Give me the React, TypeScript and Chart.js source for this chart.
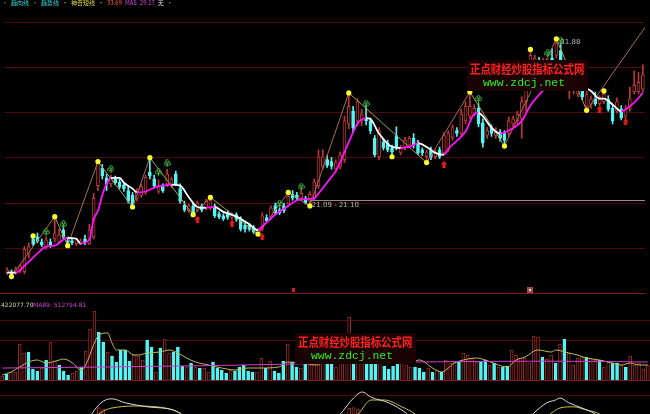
import React, { useEffect, useRef } from 'react';
import { Chart, registerables } from 'chart.js';

Chart.register(...registerables);

// ---------------- data ----------------
const N = 148;

const opens = [
  16.35, 16.41, 16.35, 16.48, 16.41, 17.57, 18.59, 18.72, 18.40, 18.02,
  18.40, 18.59, 18.40, 19.17, 18.47, 18.47, 18.27, 18.27, 18.59, 18.27,
  18.72, 22.13, 23.28, 22.64, 22.25, 22.57, 22.38, 22.19, 21.80, 21.48,
  21.29, 21.48, 21.68, 23.02, 22.57, 21.74, 22.06, 22.25, 22.13, 22.89,
  21.93, 20.84, 20.46, 20.78, 20.52, 20.78, 20.65, 20.65, 20.78, 20.26,
  20.13, 20.33, 20.01, 20.20, 19.88, 19.49, 19.49, 19.37, 18.98, 19.24,
  20.01, 20.01, 20.78, 20.52, 20.78, 20.91, 21.55, 21.48, 21.29, 21.29,
  21.10, 21.29, 22.13, 23.35, 23.86, 23.73, 23.22, 23.41, 23.86, 26.23,
  27.07, 26.43, 26.43, 26.62, 26.43, 25.27, 24.05, 25.01, 24.95, 24.63,
  25.46, 24.31, 24.69, 24.82, 25.27, 24.95, 24.50, 24.05, 24.50, 24.05,
  24.50, 24.31, 24.50, 25.34, 25.78, 25.59, 26.43, 26.75, 26.94, 27.26,
  26.30, 25.46, 25.98, 25.46, 25.66, 25.59, 25.59, 26.23, 26.43, 26.56,
  27.71, 30.28, 30.41, 30.47, 29.70, 29.76, 30.60, 30.79, 31.11, 29.32,
  28.67, 28.48, 28.22, 28.48, 27.39, 27.52, 27.90, 27.58, 27.71, 27.84,
  27.26, 27.07, 27.20, 26.75, 27.26, 28.35, 28.35, 28.54,
];
const highs = [
  16.67, 16.54, 16.73, 16.92, 18.08, 18.34, 18.79, 18.98, 18.59, 18.72,
  18.59, 20.07, 19.24, 19.49, 18.72, 18.59, 18.66, 18.59, 18.85, 19.56,
  21.61, 23.73, 23.54, 22.89, 22.83, 22.77, 22.57, 22.32, 22.06, 21.68,
  21.93, 22.25, 22.83, 23.99, 22.83, 22.51, 22.25, 23.22, 22.70, 23.09,
  22.25, 21.10, 20.91, 20.97, 21.10, 20.91, 21.23, 21.35, 20.91, 20.39,
  20.26, 20.46, 20.33, 20.33, 20.07, 19.62, 19.62, 19.49, 19.30, 20.33,
  20.20, 20.78, 20.97, 20.65, 20.97, 21.68, 21.80, 21.68, 21.87, 21.42,
  21.74, 22.57, 24.50, 24.50, 24.12, 23.99, 23.86, 24.37, 26.75, 28.29,
  27.39, 27.90, 27.20, 27.45, 26.62, 25.46, 25.98, 25.27, 25.14, 24.82,
  26.04, 24.82, 25.34, 25.40, 25.59, 25.14, 24.63, 24.50, 24.69, 24.50,
  24.69, 25.66, 25.78, 26.17, 25.98, 27.20, 27.71, 28.35, 27.52, 27.58,
  26.56, 25.98, 26.17, 25.98, 25.85, 25.78, 26.68, 26.75, 27.07, 28.03,
  30.02, 31.18, 30.79, 30.66, 30.60, 30.54, 31.24, 31.88, 31.56, 30.47,
  29.89, 29.51, 29.25, 28.87, 28.48, 28.10, 28.35, 28.10, 28.42, 28.10,
  27.45, 27.97, 27.45, 27.45, 28.67, 29.76, 29.64, 30.15,
];
const lows = [
  16.22, 16.09, 16.22, 16.35, 16.28, 17.31, 18.14, 18.34, 18.08, 17.89,
  18.02, 18.40, 18.27, 18.59, 18.14, 18.21, 18.14, 18.21, 18.21, 18.21,
  18.59, 21.80, 22.57, 21.80, 22.06, 22.19, 21.93, 21.74, 20.97, 20.71,
  21.10, 21.35, 21.55, 22.57, 22.00, 21.61, 21.68, 22.06, 22.00, 22.13,
  20.97, 20.39, 20.33, 20.20, 20.39, 20.39, 20.52, 20.52, 20.01, 19.94,
  19.81, 19.88, 19.88, 19.75, 19.11, 19.04, 19.11, 18.95, 18.91, 19.11,
  19.69, 19.88, 20.20, 20.20, 20.33, 20.78, 21.16, 21.16, 21.16, 20.91,
  20.78, 21.16, 21.93, 23.22, 23.34, 23.22, 23.09, 23.22, 23.66, 25.91,
  25.66, 26.11, 26.11, 26.17, 25.59, 24.05, 23.86, 24.50, 24.37, 24.05,
  24.50, 24.18, 24.50, 24.63, 24.63, 24.18, 24.12, 23.66, 23.86, 23.92,
  23.92, 24.18, 24.37, 25.14, 25.40, 25.40, 26.23, 26.56, 26.75, 26.04,
  24.69, 25.27, 25.40, 25.27, 25.08, 24.76, 25.40, 26.04, 26.23, 25.27,
  27.07, 29.89, 30.02, 29.89, 29.38, 29.51, 29.89, 30.60, 29.96, 29.13,
  27.90, 28.22, 28.03, 27.84, 27.13, 27.26, 27.45, 27.45, 27.58, 27.07,
  26.23, 26.94, 26.49, 26.56, 27.07, 28.22, 28.22, 28.35,
];
const closes = [
  16.54, 16.22, 16.60, 16.80, 17.89, 18.08, 18.27, 18.47, 18.21, 18.53,
  18.14, 18.98, 18.85, 18.72, 18.27, 18.34, 18.53, 18.47, 18.34, 19.17,
  21.29, 23.66, 22.77, 22.25, 22.70, 22.32, 22.06, 21.93, 21.10, 20.84,
  21.74, 22.06, 22.70, 22.77, 22.13, 22.13, 21.80, 22.90, 22.57, 22.25,
  21.10, 20.52, 20.78, 20.33, 20.97, 20.52, 21.10, 21.16, 20.13, 20.07,
  19.94, 20.01, 20.20, 19.88, 19.24, 19.24, 19.24, 19.04, 19.17, 20.13,
  19.81, 20.65, 20.33, 20.33, 20.46, 21.42, 21.29, 21.29, 21.61, 20.97,
  21.55, 22.38, 24.05, 24.05, 23.47, 23.41, 23.66, 24.18, 26.43, 27.39,
  25.98, 27.71, 26.88, 26.43, 25.78, 24.18, 25.78, 24.63, 24.50, 24.37,
  24.69, 24.63, 25.14, 25.27, 24.82, 24.31, 24.31, 24.37, 24.05, 24.37,
  24.05, 25.46, 25.59, 25.98, 25.59, 26.88, 27.39, 27.39, 27.26, 26.23,
  24.95, 25.78, 25.59, 25.78, 25.27, 25.14, 26.43, 26.56, 26.88, 27.71,
  29.76, 30.79, 30.60, 30.15, 30.35, 30.28, 30.15, 31.56, 30.15, 30.28,
  29.64, 29.32, 28.99, 28.03, 28.22, 27.90, 27.58, 27.90, 28.22, 27.20,
  26.43, 27.71, 26.62, 27.20, 27.90, 28.80, 28.99, 29.51,
];
// volume, thousand shares
const volumes = [
  135, 189, 243, 243, 999, 756, 783, 324, 270, 351,
  567, 1053, 540, 432, 270, 162, 216, 270, 378, 810,
  1404, 1890, 1323, 1053, 783, 675, 513, 837, 837, 540,
  702, 675, 567, 1107, 918, 243, 891, 1134, 756, 783,
  918, 405, 378, 486, 378, 351, 351, 243, 513, 351,
  297, 216, 297, 270, 378, 432, 270, 243, 243, 621,
  351, 540, 270, 216, 540, 999, 513, 378, 351, 486,
  432, 432, 486, 513, 486, 486, 378, 567, 972, 1728,
  513, 837, 783, 486, 486, 513, 486, 405, 324, 405,
  513, 486, 432, 378, 378, 351, 243, 351, 243, 297,
  243, 567, 486, 513, 513, 756, 702, 621, 513, 513,
  567, 432, 486, 378, 378, 405, 837, 702, 621, 621,
  486, 1215, 1188, 648, 594, 702, 486, 999, 1134, 756,
  432, 621, 648, 648, 621, 567, 567, 378, 513, 486,
  486, 432, 378, 675, 432, 486, 324, 422.0777,
];

// price moving average
const maIdx = [0, 2, 4, 7, 9, 11, 14, 16, 17, 19, 20, 21, 22, 23, 24, 26, 27, 29, 30, 32, 34, 36, 38, 40, 42, 44, 46, 48, 50, 53, 56, 58, 59, 62, 65, 67, 69, 71, 72, 75, 76, 79, 81, 83, 84, 86, 89, 91, 93, 95, 97, 99, 101, 102, 106, 108, 109, 110, 112, 114, 116, 119, 121, 124, 126, 128, 130, 132, 133, 135, 137, 138, 140, 142, 143, 145, 147];
const maVal = [16.35, 16.35, 16.80, 17.63, 18.08, 18.15, 18.66, 18.60, 18.28, 18.53, 19.88, 20.46, 21.49, 22.26, 22.64, 22.64, 22.32, 21.93, 21.68, 21.74, 22.00, 22.13, 22.19, 22.13, 21.36, 20.71, 20.65, 20.71, 20.39, 20.07, 19.56, 19.17, 19.43, 20.20, 20.78, 21.16, 21.23, 21.29, 21.61, 22.71, 23.09, 25.02, 26.24, 26.62, 26.56, 25.59, 24.70, 24.63, 24.70, 24.95, 24.70, 24.31, 24.18, 24.57, 25.72, 26.88, 26.94, 26.75, 25.98, 25.59, 25.79, 26.43, 27.46, 28.48, 29.13, 29.45, 29.38, 28.99, 28.74, 28.42, 27.91, 27.91, 27.52, 27.07, 27.20, 27.65, 28.29];

// zigzag turning points
const zzIdx = [1, 11, 14, 21, 29, 33, 43, 47, 58, 65, 70, 79, 97, 107, 115, 127, 134, 155];
const zzVal = [16.09, 20.07, 18.14, 23.73, 20.71, 23.99, 20.20, 21.35, 18.91, 21.68, 20.78, 28.29, 23.66, 28.35, 24.76, 31.88, 27.13, 35.70];

// yellow swing dots (H = at high, L = at low)
const dotIdx = [1, 6, 11, 14, 21, 29, 33, 43, 47, 58, 65, 70, 79, 89, 97, 107, 115, 121, 127, 134, 138];
const dotSide = 'LHHLHLHLHLHLHLLHLHHLH';

// green club signals and red arrow signals
const clubIdx = [9, 13, 24, 35, 37, 63, 68, 83, 109, 125, 128];
const clubVal = [19.04, 19.56, 23.22, 23.02, 23.60, 20.91, 22.06, 27.58, 27.90, 30.92, 31.75];
const arrowIdx = [44, 52, 59, 101, 137, 143];
const arrowVal = [19.88, 19.62, 18.72, 23.54, 27.20, 26.36];

// volume averages
const vma5Idx = [0, 2, 4, 6, 8, 10, 13, 14, 16, 18, 19, 21, 22, 24, 25, 26, 28, 30, 31, 33, 36, 38, 40, 42, 44, 47, 50, 53, 56, 59, 63, 65, 68, 72, 73, 77, 80, 83, 86, 89, 93, 95, 98, 100, 103, 105, 108, 110, 113, 115, 117, 119, 122, 125, 126, 129, 131, 133, 136, 138, 141, 143, 145, 147];
const vma5Val = [162, 243, 378, 513, 567, 486, 567, 594, 486, 297, 432, 1026, 1242, 1296, 1026, 837, 837, 702, 702, 756, 783, 837, 756, 621, 513, 432, 351, 297, 351, 351, 378, 513, 486, 432, 513, 513, 756, 837, 648, 540, 513, 567, 351, 243, 486, 567, 621, 567, 432, 378, 567, 648, 837, 783, 837, 756, 702, 621, 567, 513, 432, 486, 432, 432];
const vma89Idx = [0, 25, 50, 75, 100, 125, 147];
const vma89Val = [350, 380, 420, 480, 520, 535, 512.8];

// lower indicator (partly visible)
const kIdx = [0, 16, 20, 21, 23, 25, 28, 33, 39, 41, 45, 72, 77, 80, 82, 84, 88, 92, 95, 117, 121, 124, 126, 127, 129, 132, 135, 138, 147];
const kVal = [40, 40, 57, 65, 76, 79, 74, 69, 65, 59, 40, 40, 60, 80, 87.5, 81, 74, 61, 45, 40, 61, 74, 77.5, 80, 74, 67.5, 60, 45, 35];
const dIdx = [0, 18, 22, 24, 25, 30, 35, 40, 43, 75, 81, 84, 87, 91, 94, 97, 120, 125, 127, 130, 133, 136, 139, 147];
const dVal = [40, 40, 60, 66, 67.5, 70, 69, 62.5, 50, 40, 60, 77.5, 77.5, 69, 60, 45, 40, 61, 67.5, 69, 65, 60, 45, 38];
const indBarIdx = [22, 23, 79, 80, 81];
const indBarVal = [68, 66, 67, 68, 66];

// grid levels / labels
const priceGrid = [18, 21, 24, 27, 30, 33];
const volGrid = [1107, 1660];
const indGrid = [84];
const levelIdx = 70;
const levelPrice = 21.10;
const levelLabel = '21.09 - 21.10';
const peakIdx = 127;
const peakLabel = '31.88';
const headerTexts = ['·', '趋向线', '·', '趋势线', '·', '神奇短线', '·', '33.69', 'MA5', '29.17', '无', '·'];
const headerColors = ['#3cc8c8', '#3cd8d8', '#3cc8c8', '#3cd8d8', '#c8c840', '#dcdc40', '#c8c840', '#ff5a5a', '#e040e0', '#e040e0', '#e0e0e0', '#c0c0c0'];
const volLabel = '422077.70';
const volMaLabel = 'MA89: 512794.81';
const markIdx = [66, 121];
const WM_TITLE = '正点财经炒股指标公式网';
const WM_URL = 'www.zdcj.net';

// ---------------- styles ----------------
const RED = '#c23636';
const VRED = '#a02828';
const CYAN = '#56f4f4';
const GRID = '#520909';
const SEP = '#7c1c1c';
const PRICE_MIN = 14.93;
const PRICE_MAX = 34.13;
const VOL_MAX = 2214;
const IND_MIN = 60;
const IND_MAX = 101.25;

const idxs = Array.from({ length: N }, (_, i) => i);
const isUp = (i: number) => closes[i] >= opens[i];
const pts = (xs: number[], ys: number[]) => xs.map((x, k) => ({ x, y: ys[k] }));

function makeClub() {
  const c = document.createElement('canvas');
  c.width = 7;
  c.height = 8;
  const g = c.getContext('2d')!;
  g.strokeStyle = '#44b444';
  g.lineWidth = 1;
  [[3.5, 2], [1.8, 4.3], [5.2, 4.3]].forEach(([x, y]) => {
    g.beginPath();
    g.arc(x, y, 1.5, 0, Math.PI * 2);
    g.stroke();
  });
  g.beginPath();
  g.moveTo(3.5, 4);
  g.lineTo(3.5, 8);
  g.stroke();
  return c;
}

function makeArrow() {
  const c = document.createElement('canvas');
  c.width = 6;
  c.height = 7;
  const g = c.getContext('2d')!;
  g.fillStyle = '#ff1c1c';
  g.beginPath();
  g.moveTo(3, 0);
  g.lineTo(6, 3.5);
  g.lineTo(0, 3.5);
  g.closePath();
  g.fill();
  g.fillRect(1.5, 3.5, 3, 3.5);
  return c;
}

function hline(ctx: CanvasRenderingContext2D, x0: number, x1: number, y: number, color: string) {
  ctx.save();
  ctx.strokeStyle = color;
  ctx.lineWidth = 1;
  ctx.beginPath();
  const yy = Math.round(y) + 0.5;
  ctx.moveTo(x0, yy);
  ctx.lineTo(x1, yy);
  ctx.stroke();
  ctx.restore();
}

function drawWatermark(ctx: CanvasRenderingContext2D, x: number, y: number) {
  ctx.save();
  ctx.fillStyle = '#1c0303';
  ctx.fillRect(x, y, 121, 31);
  ctx.fillStyle = '#ff2020';
  ctx.font = 'bold 10.4px "Noto Sans CJK SC"';
  ctx.textBaseline = 'top';
  ctx.save();
  ctx.translate(x + 3, y + 3);
  ctx.scale(1, 1.2);
  ctx.fillText(WM_TITLE, 0, 0);
  ctx.restore();
  ctx.fillStyle = '#28f028';
  ctx.font = '11.4px "Liberation Mono"';
  ctx.textBaseline = 'alphabetic';
  ctx.fillText(WM_URL, x + 16, y + 26);
  ctx.restore();
}

const baseOptions = (yMin: number, yMax: number) => ({
  animation: false as const,
  responsive: false,
  events: [] as any[],
  layout: { padding: 0 },
  plugins: { legend: { display: false }, tooltip: { enabled: false } },
  scales: {
    x: { type: 'linear' as const, min: -0.5, max: N - 0.5, offset: false, display: false },
    y: { type: 'linear' as const, min: yMin, max: yMax, display: false },
  },
});

export default function App() {
  const pRef = useRef<HTMLCanvasElement>(null);
  const vRef = useRef<HTMLCanvasElement>(null);
  const iRef = useRef<HTMLCanvasElement>(null);

  useEffect(() => {
    document.body.style.margin = '0';
    document.body.style.background = '#000';
    const club = makeClub();
    const arrow = makeArrow();
    const charts: Chart[] = [];

    const pricePlugin = {
      id: 'pricePlugin',
      beforeDatasetsDraw(chart: any) {
        const { ctx, chartArea, scales } = chart;
        priceGrid.forEach((v) => hline(ctx, chartArea.left, chartArea.right, scales.y.getPixelForValue(v), GRID));
      },
      afterDraw(chart: any) {
        const { ctx, chartArea, scales } = chart;
        const xs = scales.x;
        const ys = scales.y;
        const ly = ys.getPixelForValue(levelPrice);
        hline(ctx, xs.getPixelForValue(levelIdx), chartArea.right, ly - 1, '#8c8c8c');
        ctx.save();
        ctx.font = '7px "DejaVu Sans"';
        ctx.fillStyle = '#b4b4b4';
        ctx.textBaseline = 'middle';
        ctx.fillText(levelLabel, xs.getPixelForValue(levelIdx) + 2, ly + 4);
        ctx.fillText(peakLabel, xs.getPixelForValue(peakIdx) + 4, ys.getPixelForValue(highs[peakIdx]) + 3.5);
        ctx.restore();
        ctx.save();
        ctx.font = '6px "Noto Sans CJK SC"';
        ctx.textBaseline = 'alphabetic';
        let hx = 2;
        headerTexts.forEach((t, k) => {
          ctx.fillStyle = headerColors[k];
          ctx.fillText(t, hx, 5);
          hx += ctx.measureText(t).width + 3;
        });
        ctx.restore();
        ctx.save();
        const mb = chartArea.bottom;
        ctx.fillStyle = '#d02020';
        ctx.fillRect(Math.round(xs.getPixelForValue(markIdx[0])) - 1, mb - 6, 3, 4);
        ctx.fillStyle = '#a84848';
        ctx.fillRect(Math.round(xs.getPixelForValue(markIdx[1])) - 3, mb - 7, 6, 6);
        ctx.fillStyle = '#f0d0d0';
        ctx.fillRect(Math.round(xs.getPixelForValue(markIdx[1])) - 1, mb - 5, 2, 2);
        ctx.restore();
        hline(ctx, 0, chartArea.right, chartArea.bottom - 1, SEP);
        drawWatermark(ctx, 467, 60);
      },
    };

    charts.push(
      new Chart(pRef.current!, {
        type: 'bar',
        data: {
          datasets: [
            {
              type: 'line',
              data: pts(zzIdx, zzVal),
              borderWidth: 1,
              pointRadius: 0,
              borderColor: '#a86a5e',
              segment: { borderColor: (c: any) => (c.p1.parsed.y > c.p0.parsed.y ? '#a86a5e' : '#a4a256') },
              order: 5,
            } as any,
            {
              type: 'line',
              data: pts(maIdx, maVal),
              borderWidth: 1.8,
              pointRadius: 0,
              cubicInterpolationMode: 'monotone',
              borderColor: '#ff10ff',
              segment: { borderColor: (c: any) => (c.p1.parsed.y <= c.p0.parsed.y ? '#ffffff' : '#ff10ff') },
              order: 4,
            } as any,
            {
              type: 'line',
              data: dotIdx.map((i, k) => ({ x: i, y: dotSide[k] === 'H' ? highs[i] : lows[i] })),
              showLine: false,
              pointRadius: 2.6,
              pointBackgroundColor: '#ffff30',
              pointBorderWidth: 0,
              order: 1,
            } as any,
            {
              type: 'line',
              data: pts(clubIdx, clubVal),
              showLine: false,
              pointRadius: 3,
              pointStyle: club,
              order: 1,
            } as any,
            {
              type: 'line',
              data: pts(arrowIdx, arrowVal),
              showLine: false,
              pointRadius: 3,
              pointStyle: arrow,
              order: 1,
            } as any,
            {
              type: 'bar',
              data: idxs.map((i) => ({ x: i, y: [lows[i], highs[i]] })),
              backgroundColor: idxs.map((i) => (isUp(i) ? RED : CYAN)),
              borderWidth: 0,
              barThickness: 1,
              grouped: false,
              order: 8,
            } as any,
            {
              type: 'bar',
              data: idxs.map((i) => ({ x: i, y: [opens[i], closes[i]] })),
              backgroundColor: idxs.map((i) => (isUp(i) ? '#000000' : CYAN)),
              borderColor: idxs.map((i) => (isUp(i) ? RED : CYAN)),
              borderWidth: 1,
              borderSkipped: false,
              barThickness: 3,
              minBarLength: 1,
              grouped: false,
              order: 7,
            } as any,
          ],
        },
        options: baseOptions(PRICE_MIN, PRICE_MAX) as any,
        plugins: [pricePlugin],
      })
    );

    const volPlugin = {
      id: 'volPlugin',
      beforeDatasetsDraw(chart: any) {
        const { ctx, chartArea, scales } = chart;
        volGrid.forEach((v) => hline(ctx, chartArea.left, chartArea.right, scales.y.getPixelForValue(v), GRID));
      },
      afterDraw(chart: any) {
        const { ctx, chartArea } = chart;
        hline(ctx, 0, chartArea.right, chartArea.bottom - 1, SEP);
        ctx.save();
        ctx.font = '6px "DejaVu Sans"';
        ctx.textBaseline = 'alphabetic';
        ctx.fillStyle = '#dcdc96';
        ctx.fillText(volLabel, 1, 8);
        ctx.fillStyle = '#d040d0';
        ctx.fillText(volMaLabel, 33, 8);
        ctx.restore();
        drawWatermark(ctx, 295, 34);
      },
    };

    charts.push(
      new Chart(vRef.current!, {
        type: 'bar',
        data: {
          datasets: [
            {
              type: 'line',
              data: pts(vma5Idx, vma5Val),
              borderColor: '#bebe5a',
              borderWidth: 1,
              pointRadius: 0,
              cubicInterpolationMode: 'monotone',
              order: 2,
            } as any,
            {
              type: 'line',
              data: pts(vma89Idx, vma89Val),
              borderColor: '#d43cd4',
              borderWidth: 1,
              pointRadius: 0,
              cubicInterpolationMode: 'monotone',
              order: 1,
            } as any,
            {
              type: 'bar',
              data: idxs.map((i) => ({ x: i, y: volumes[i] })),
              backgroundColor: idxs.map((i) => (isUp(i) ? '#000000' : CYAN)),
              borderColor: idxs.map((i) => (isUp(i) ? VRED : CYAN)),
              borderWidth: 1,
              borderSkipped: false,
              barThickness: 3,
              grouped: false,
              order: 5,
            } as any,
          ],
        },
        options: baseOptions(0, VOL_MAX) as any,
        plugins: [volPlugin],
      })
    );

    const indPlugin = {
      id: 'indPlugin',
      beforeDatasetsDraw(chart: any) {
        const { ctx, chartArea, scales } = chart;
        indGrid.forEach((v) => hline(ctx, chartArea.left, chartArea.right, scales.y.getPixelForValue(v), GRID));
      },
    };

    charts.push(
      new Chart(iRef.current!, {
        type: 'bar',
        data: {
          datasets: [
            {
              type: 'line',
              data: pts(kIdx, kVal),
              borderColor: '#d8d8d8',
              borderWidth: 1,
              pointRadius: 0,
              cubicInterpolationMode: 'monotone',
              order: 1,
            } as any,
            {
              type: 'line',
              data: pts(dIdx, dVal),
              borderColor: '#c8c050',
              borderWidth: 1,
              pointRadius: 0,
              cubicInterpolationMode: 'monotone',
              order: 2,
            } as any,
            {
              type: 'bar',
              data: indBarIdx.map((i, k) => ({ x: i, y: [40, indBarVal[k]] })),
              backgroundColor: '#000000',
              borderColor: VRED,
              borderWidth: 1,
              borderSkipped: false,
              barThickness: 3,
              grouped: false,
              order: 5,
            } as any,
          ],
        },
        options: baseOptions(IND_MIN, IND_MAX) as any,
        plugins: [indPlugin],
      })
    );

    return () => charts.forEach((c) => c.destroy());
  }, []);

  return (
    <div
      style={{
        position: 'fixed',
        left: 0,
        top: 0,
        width: 650,
        height: 414,
        background: '#000',
        overflow: 'hidden',
      }}
    >
      <canvas ref={pRef} width={650} height={299} style={{ position: 'absolute', left: 0, top: 0 }} />
      <canvas ref={vRef} width={650} height={82} style={{ position: 'absolute', left: 0, top: 299 }} />
      <canvas ref={iRef} width={650} height={33} style={{ position: 'absolute', left: 0, top: 381 }} />
    </div>
  );
}
